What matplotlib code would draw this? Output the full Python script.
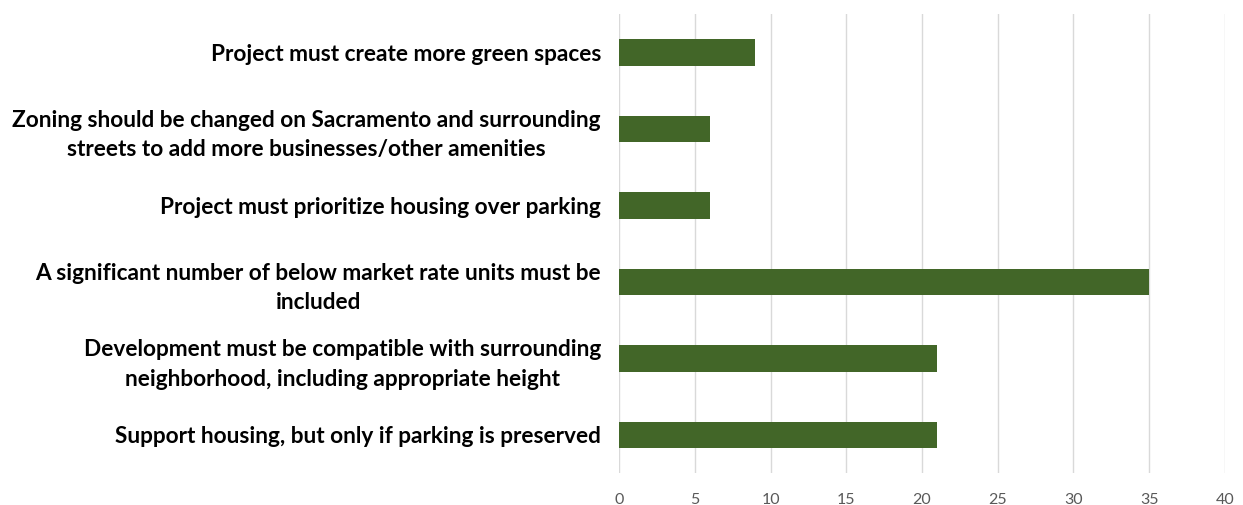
import matplotlib
matplotlib.use("Agg")
import matplotlib.pyplot as plt

categories = [
    "Project must create more green spaces",
    "Zoning should be changed on Sacramento and surrounding\nstreets to add more businesses/other amenities",
    "Project must prioritize housing over parking",
    "A significant number of below market rate units must be\nincluded",
    "Development must be compatible with surrounding\nneighborhood, including appropriate height",
    "Support housing, but only if parking is preserved",
]
counts = [9, 6, 6, 35, 21, 21]
xticks = [0, 5, 10, 15, 20, 25, 30, 35, 40]

plt.rcParams['font.family'] = ['Lato', 'DejaVu Sans']

fig = plt.figure(figsize=(12.43, 5.05), dpi=100)
ax = fig.add_axes([0.498, 0.063, 0.4875, 0.909])

y = list(range(len(categories)))
ax.barh(y, counts, height=0.35, color="#426628", zorder=3)
ax.set_yticks(y)
ax.set_yticklabels(categories, fontsize=16.3, fontweight="bold",
                   multialignment="center", linespacing=1.5)
ax.set_ylim(len(categories) - 0.5, -0.5)

ax.set_xlim(0, 40)
ax.set_xticks(xticks)
ax.tick_params(axis="x", labelsize=11.5, colors="#595959", length=0, pad=14)
ax.tick_params(axis="y", length=0, pad=13)
ax.grid(axis="x", color="#d9d9d9", linewidth=1, zorder=0)
for s in ax.spines.values():
    s.set_visible(False)

plt.savefig("out.png", dpi=100)
